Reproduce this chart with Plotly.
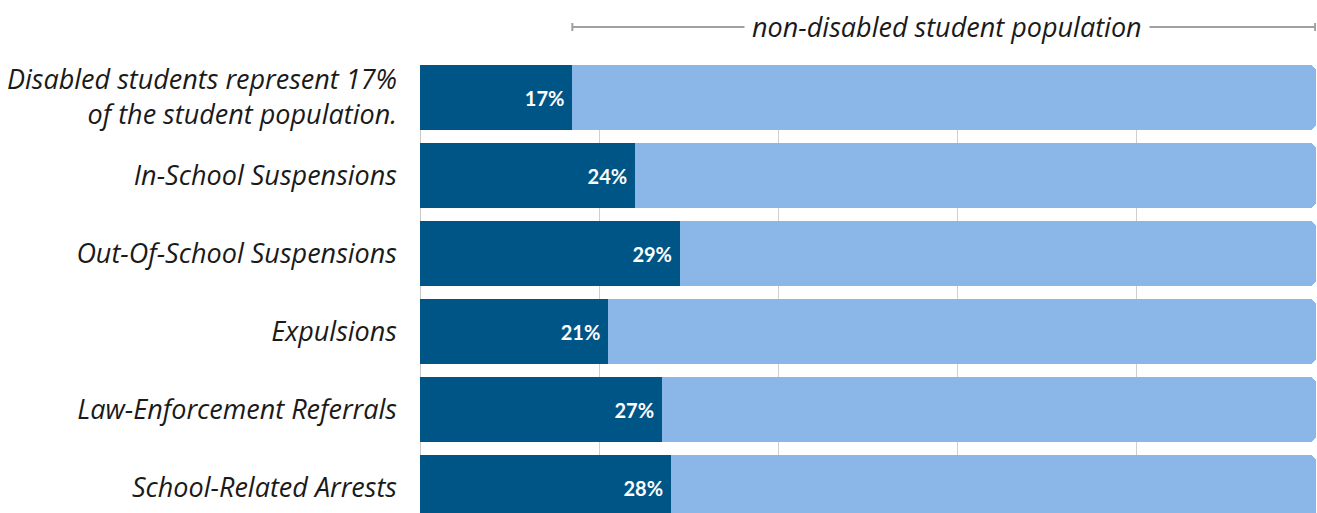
import plotly.graph_objects as go

categories = [
    "Disabled students represent 17%<br>of the student population.",
    "In-School Suspensions",
    "Out-Of-School Suspensions",
    "Expulsions",
    "Law-Enforcement Referrals",
    "School-Related Arrests",
]
disabled = [17, 24, 29, 21, 27, 28]
non_disabled = [100 - v for v in disabled]
bracket_label = "non-disabled student population"

DARK = "#005587"
LIGHT = "#8bb7e8"
LABEL_FONT = "Open Sans"
NUM_FONT = "Lato"

fig = go.Figure()
fig.add_trace(go.Bar(
    y=categories, x=disabled, orientation="h",
    marker=dict(color=DARK, line=dict(width=0)),
    texttemplate="%{x}%\u00a0", textposition="inside", insidetextanchor="end",
    textfont=dict(family=NUM_FONT, size=20, color="white", weight="bold"),
    hoverinfo="skip", showlegend=False,
))
fig.add_trace(go.Bar(
    y=categories, x=non_disabled, orientation="h",
    marker=dict(color=LIGHT, line=dict(width=0)),
    hoverinfo="skip", showlegend=False,
))

W, H = 1317, 513
top, left = 65, 420
right = 1
plot_h = H - top
pitch = 78
bar_frac = 65 / 78
y_top = -bar_frac / 2
y_bottom = y_top + plot_h / pitch

fig.update_layout(
    width=W, height=H,
    margin=dict(l=left, r=right, t=top, b=0, pad=0),
    barmode="stack", bargap=1 - bar_frac, barcornerradius=7,
    plot_bgcolor="white", paper_bgcolor="white",
    font=dict(family=LABEL_FONT, color="#1a1a1a"),
    xaxis=dict(range=[0, 100], showticklabels=False, showgrid=True,
               gridcolor="#cfcfcf", gridwidth=1, dtick=20,
               zeroline=True, zerolinecolor="#c8c8c8", zerolinewidth=1,
               fixedrange=True),
    yaxis=dict(range=[y_bottom, y_top], showgrid=False, zeroline=False,
               tickfont=dict(family=LABEL_FONT, size=27, style="italic", color="#1a1a1a"),
               ticks="", ticklabelstandoff=22, fixedrange=True),
)

# bracket above the bars for the non-disabled share
y_br = (H - 27) / plot_h
cap = 4 / plot_h
line_col = "#a0a0a0"
fig.add_shape(type="line", xref="x", yref="paper", x0=disabled[0], x1=100,
              y0=y_br, y1=y_br, line=dict(color=line_col, width=2))
for xv in (disabled[0], 99.9):
    fig.add_shape(type="line", xref="x", yref="paper", x0=xv, x1=xv,
                  y0=y_br - cap, y1=y_br + cap, line=dict(color=line_col, width=2))
fig.add_annotation(x=(disabled[0] + 100) / 2 + 0.3, y=y_br, xref="x", yref="paper",
                   text=bracket_label, showarrow=False, bgcolor="white", borderpad=7,
                   font=dict(family=LABEL_FONT, size=27, style="italic", color="#1a1a1a"),
                   xanchor="center", yanchor="middle")

fig.write_html(
    "out.html",
    config={"displayModeBar": False, "staticPlot": True},
    post_script="document.body.style.margin='0';document.body.style.overflow='hidden';",
)
